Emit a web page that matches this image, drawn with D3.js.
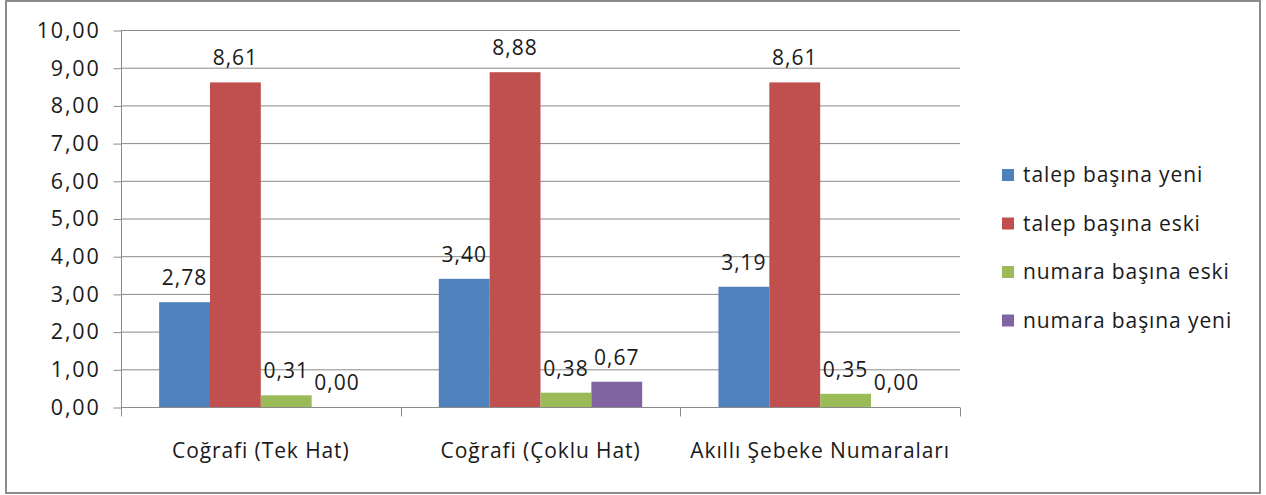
<!DOCTYPE html>
<html>
<head>
<meta charset="utf-8">
<script src="https://cdn.jsdelivr.net/npm/d3@7"></script>
<style>
  body { margin: 0; background: #fff; }
  text { font-family: "Open Sans", sans-serif; fill: #1a1a1a; }
</style>
</head>
<body>
<svg id="chart" width="1266" height="495"></svg>
<script>
var categories = ["Coğrafi (Tek Hat)", "Coğrafi (Çoklu Hat)", "Akıllı Şebeke Numaraları"]
var seriesNames = ["talep başına yeni", "talep başına eski", "numara başına eski", "numara başına yeni"]
var talepYeni = [2.78, 3.40, 3.19]
var talepEski = [8.61, 8.88, 8.61]
var numaraEski = [0.31, 0.38, 0.35]
var numaraYeni = [0.00, 0.67, 0.00]
var yTicks = [0, 1, 2, 3, 4, 5, 6, 7, 8, 9, 10]
var colors = ["#4f81bd", "#c0504d", "#9bbb59", "#8064a2"]

var series = [talepYeni, talepEski, numaraEski, numaraYeni]

var svg = d3.select('#chart')
var fmt = d3.formatLocale({decimal: ",", thousands: ".", grouping: [3], currency: ["", ""]}).format(".2f")

var plotL = 121, plotR = 960, plotT = 30, plotB = 407

// outer frame
svg.append('rect')
	.attr('x', 6).attr('y', 1)
	.attr('width', 1254).attr('height', 492)
	.attr('fill', 'none')
	.attr('stroke', '#8c8c8c')
	.attr('stroke-width', 2)

var x0 = d3.scaleBand().domain(d3.range(categories.length)).range([plotL, plotR]).paddingInner(0).paddingOuter(0)
// gap width 150% -> 0.75 of a bar on each side
var x1 = d3.scaleBand().domain(d3.range(series.length)).range([0, x0.bandwidth()]).paddingInner(0).paddingOuter(0.75)
var y = d3.scaleLinear().domain([0, 10]).range([plotB, plotT])

// gridlines
svg.append('g').selectAll('line')
	.data(yTicks.slice(1))
	.enter().append('line')
	.attr('x1', plotL).attr('x2', plotR)
	.attr('y1', function(d) {return y(d) + 0.5})
	.attr('y2', function(d) {return y(d) + 0.5})
	.attr('stroke', '#8a8a8a')
	.attr('stroke-width', 1)

// bars
var groups = svg.append('g').selectAll('.grp')
	.data(categories)
	.enter().append('g')
	.attr('class', 'grp')
	.attr('transform', function(d, i) {return 'translate(' + x0(i) + ',0)'})

groups.each(function(c, ci) {
	var g = d3.select(this)
	var vals = series.map(function(s, si) {return {si: si, v: s[ci]}})
	g.selectAll('rect')
		.data(vals)
		.enter().append('rect')
		.attr('x', function(d) {return x1(d.si)})
		.attr('width', x1.bandwidth())
		.attr('y', function(d) {return y(d.v)})
		.attr('height', function(d) {return y(0) - y(d.v)})
		.attr('fill', function(d) {return colors[d.si]})
	g.selectAll('text')
		.data(vals)
		.enter().append('text')
		.attr('x', function(d) {return x1(d.si) + x1.bandwidth() / 2})
		.attr('y', function(d) {return y(d.v) - 17})
		.attr('text-anchor', 'middle')
		.style('font-size', '21px')
		.style('letter-spacing', '1px')
		.text(function(d) {return fmt(d.v)})
})

// y axis
var yAxis = d3.axisLeft(y).tickValues(yTicks).tickSize(8).tickPadding(13).tickFormat(fmt)
var ya = svg.append('g').attr('transform', 'translate(' + (plotL + 0.5) + ',0.5)').call(yAxis)
ya.select('.domain').attr('stroke', '#8a8a8a').attr('d', 'M0,' + plotT + 'V' + plotB)
ya.selectAll('.tick line').attr('stroke', '#8a8a8a')
ya.selectAll('.tick text')
	.attr('font-family', null).attr('font-size', null)
	.style('font-size', '21.5px').style('letter-spacing', '1.8px').style('fill', '#1a1a1a')

// x axis
var xa = svg.append('g').attr('transform', 'translate(0,' + (plotB + 0.5) + ')')
xa.append('line').attr('x1', plotL).attr('x2', plotR).attr('stroke', '#8a8a8a')
xa.selectAll('.xt')
	.data(d3.range(categories.length + 1))
	.enter().append('line')
	.attr('x1', function(i) {return Math.round(plotL + i * x0.bandwidth()) + 0.5})
	.attr('x2', function(i) {return Math.round(plotL + i * x0.bandwidth()) + 0.5})
	.attr('y1', 0).attr('y2', 9)
	.attr('stroke', '#8a8a8a')
xa.selectAll('.xl')
	.data(categories)
	.enter().append('text')
	.attr('x', function(d, i) {return x0(i) + x0.bandwidth() / 2})
	.attr('y', 50)
	.attr('text-anchor', 'middle')
	.style('font-size', '21px')
	.style('letter-spacing', '0.9px')
	.text(function(d) {return d})

// legend
var legend = svg.append('g').selectAll('.leg')
	.data(seriesNames)
	.enter().append('g')
	.attr('class', 'leg')
	.attr('transform', function(d, i) {return 'translate(1002,' + (175 + i * 48.5) + ')'})
legend.append('rect')
	.attr('x', 0).attr('y', -6)
	.attr('width', 12).attr('height', 12)
	.attr('fill', function(d, i) {return colors[i]})
legend.append('text')
	.attr('x', 21).attr('y', 0).attr('dy', '0.35em')
	.style('font-size', '21px')
	.style('letter-spacing', '0.9px')
	.text(function(d) {return d})
</script>
</body>
</html>
